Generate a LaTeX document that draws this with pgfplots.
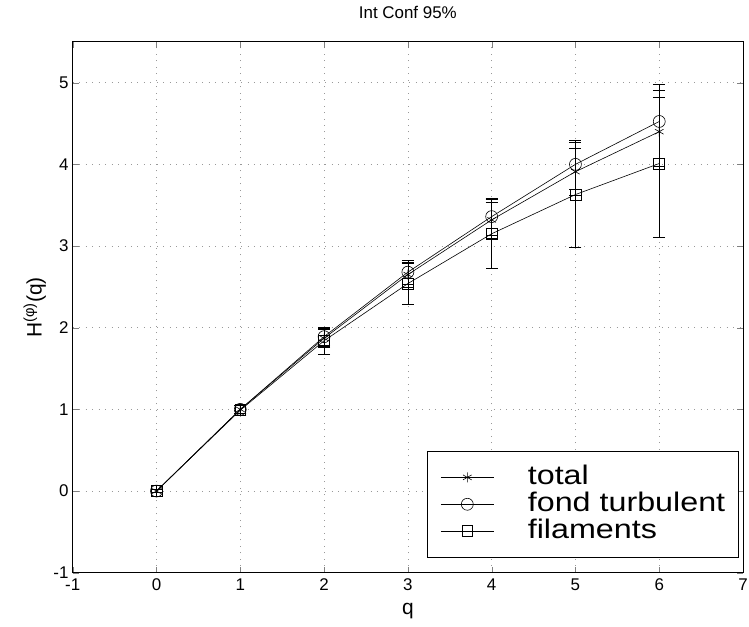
\documentclass[border=0pt]{standalone}
\usepackage{fontspec}
\setmainfont{Liberation Sans}
\newfontface\legfont[FakeStretch=1.2]{Liberation Sans}
\usepackage{pgfplots}
\pgfplotsset{compat=1.18}
\begin{document}
\begin{tikzpicture}[x=1pt,y=1pt]
\path[use as bounding box] (-73,-54) rectangle (679,575);
\begin{axis}[
  at={(0,0)}, anchor=south west,
  scale only axis, width=673pt, height=533pt,
  xmin=-1, xmax=7, ymin=-1, ymax=5.5,
  xtick={-1,0,...,7}, ytick={-1,0,...,5},
  /pgf/number format/assume math mode=true,
  tick label style={font=\fontsize{17}{20}\selectfont},
  xticklabel style={inner sep=1pt, yshift=-5pt},
  yticklabel style={inner sep=1pt, xshift=-3pt},
  tick align=inside, major tick length=6pt,
  xtick pos=both, ytick pos=both,
  grid=major,
  major grid style={dash pattern=on 1pt off 5.5pt, gray!80, line width=0.6pt},
  axis line style={line width=0.7pt},
  title={Int Conf 95\%},
  title style={font=\fontsize{17}{20}\selectfont, at={(0.5,1)}, anchor=base, yshift=17pt},
  xlabel={q},
  xlabel style={font=\fontsize{21}{24}\selectfont, at={(0.5,0)}, anchor=base, yshift=-42pt},
  ylabel={H\textsuperscript{(φ)}(q)},
  every axis y label/.style={font=\fontsize{21}{24}\selectfont, at={(rel axis cs:0,0.5)}, anchor=center, xshift=-38pt, rotate=90},
  legend style={at={(0.529,0.229)}, anchor=north west, draw=black, line width=0.7pt, fill=white,
    font=\legfont\fontsize{27}{27}\selectfont, row sep=1pt, column sep=34pt,
    inner xsep=13pt, inner ysep=13pt,
    nodes={inner sep=0pt, text height=20pt, text depth=6pt},
    cells={anchor=west}},
  legend image code/.code={
    \draw[mark repeat=2,mark phase=2,#1] plot coordinates {(0pt,0pt) (26.5pt,0pt) (53pt,0pt)};
  },
  every axis plot/.append style={black, line width=0.6pt},
  error bars/error bar style={line width=0.6pt},
  error bars/error mark options={rotate=90, mark size=6pt, line width=0.6pt},
]
\addplot+[black, mark=asterisk, mark size=5pt, mark options={solid, line width=0.6pt},
  error bars/.cd, y dir=both, y explicit]
  coordinates {(0,0) +- (0,0.02) (1,1.0) +- (0,0.05) (2,1.87) +- (0,0.11) (3,2.65) +- (0,0.15)
   (4,3.32) +- (0,0.22) (5,3.91) +- (0,0.29) (6,4.40) +- (0,0.42)};
\addlegendentry{total}
\addplot+[black, mark=o, mark size=6pt, mark options={solid, line width=0.6pt},
  error bars/.cd, y dir=both, y explicit]
  coordinates {(0,0) +- (0,0.02) (1,1.0) +- (0,0.05) (2,1.89) +- (0,0.10) (3,2.68) +- (0,0.15)
   (4,3.36) +- (0,0.23) (5,4.00) +- (0,0.30) (6,4.525) +- (0,0.455)};
\addlegendentry{fond turbulent}
\addplot+[black, mark=square, mark size=5.5pt, mark options={solid, line width=0.6pt},
  error bars/.cd, y dir=both, y explicit]
  coordinates {(0,0) +- (0,0.02) (1,0.99) +- (0,0.06) (2,1.84) +- (0,0.17) (3,2.54) +- (0,0.25)
   (4,3.15) +- (0,0.42) (5,3.63) +- (0,0.64) (6,4.01) +- (0,0.90)};
\addlegendentry{filaments}
\end{axis}
\end{tikzpicture}
\end{document}
